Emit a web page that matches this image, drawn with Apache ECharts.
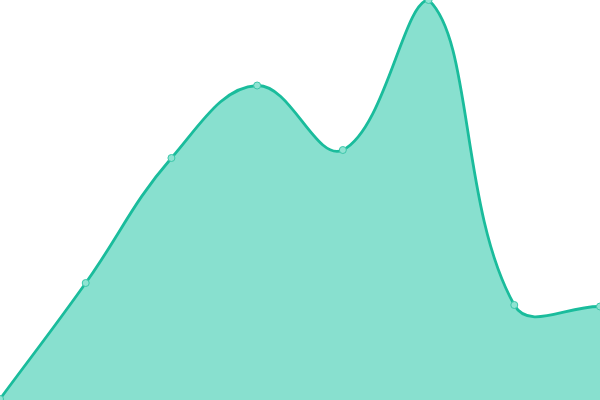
<!DOCTYPE html>
<html><head><meta charset="utf-8">
<script src="https://cdn.jsdelivr.net/npm/echarts@6/dist/echarts.min.js"></script>
<style>html,body{margin:0;padding:0;background:#fff}#c{width:600px;height:400px}</style>
</head><body><div id="c"></div>
<script>
const categories = ['1','2','3','4','5','6','7','8'];
const values = [1, 117, 242, 314.5, 250, 400, 95, 93.5];
const LINE = '#1abc9c', FILL = '#88e0cf';
const TENSION = 0.4;

function renderCurve(params, api) {
  if (params.dataIndex !== 0) return null;
  const cs = params.coordSys;
  const pts = values.map((v, i) => api.coord([i, v]));
  const n = pts.length;
  const cps = pts.map((p, i) => {
    const prev = pts[Math.max(0, i - 1)], next = pts[Math.min(n - 1, i + 1)];
    const d01 = Math.hypot(p[0] - prev[0], p[1] - prev[1]);
    const d12 = Math.hypot(next[0] - p[0], next[1] - p[1]);
    let s01 = d01 / (d01 + d12), s12 = d12 / (d01 + d12);
    if (!isFinite(s01)) s01 = 0; if (!isFinite(s12)) s12 = 0;
    const fa = TENSION * s01, fb = TENSION * s12;
    const cl = (x, lo, hi) => Math.max(lo, Math.min(hi, x));
    const cx = (x) => cl(x, cs.x, cs.x + cs.width), cy = (y) => cl(y, cs.y, cs.y + cs.height);
    return {
      px: cx(p[0] - fa * (next[0] - prev[0])), py: cy(p[1] - fa * (next[1] - prev[1])),
      nx: cx(p[0] + fb * (next[0] - prev[0])), ny: cy(p[1] + fb * (next[1] - prev[1]))
    };
  });
  let d = 'M' + pts[0][0] + ' ' + pts[0][1];
  for (let i = 1; i < n; i++) {
    d += ' C' + cps[i - 1].nx + ' ' + cps[i - 1].ny + ' ' + cps[i].px + ' ' + cps[i].py + ' ' + pts[i][0] + ' ' + pts[i][1];
  }
  const bottom = cs.y + cs.height;
  const area = d + ' L' + pts[n - 1][0] + ' ' + bottom + ' L' + pts[0][0] + ' ' + bottom + ' Z';
  return {
    type: 'group',
    children: [
      {type: 'path', shape: {pathData: area}, style: {fill: FILL, stroke: null}},
      {type: 'path', shape: {pathData: d}, style: {fill: null, stroke: LINE, lineWidth: 2.8}}
    ]
  };
}

const chart = echarts.init(document.getElementById('c'));
chart.setOption({
  animation: false,
  grid: {left: 0, right: 0, top: 0, bottom: 0},
  xAxis: {type: 'category', data: categories, boundaryGap: false, show: false},
  yAxis: {type: 'value', min: 0, max: 400, show: false},
  series: [
    {type: 'custom', data: values, renderItem: renderCurve, z: 1, silent: true},
    {
      type: 'line', data: values, z: 3,
      symbol: 'circle', symbolSize: 7,
      lineStyle: {opacity: 0},
      itemStyle: {color: '#8fe3d2', borderColor: '#3cc7aa', borderWidth: 1}
    }
  ]
});
</script></body></html>
